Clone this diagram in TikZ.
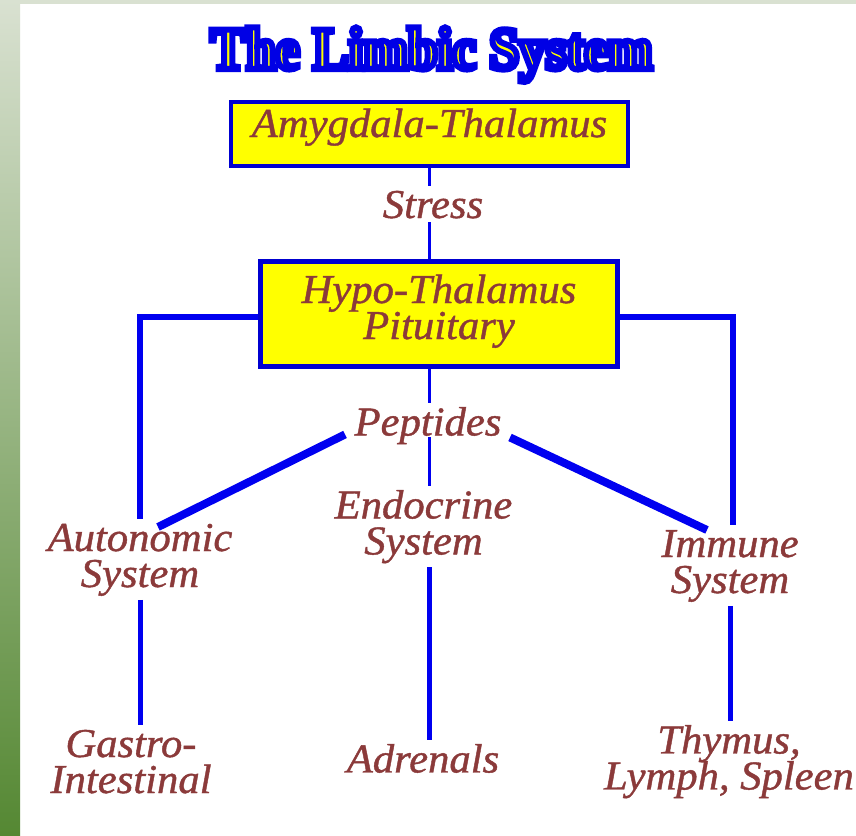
\documentclass[tikz,border=0pt]{standalone}
\usepackage{fontspec}
\usetikzlibrary{calc}
\setmainfont{Liberation Serif}
\newfontfamily\lblfamily[FakeStretch=1.04, FakeBold=1]{Liberation Serif}
\newfontfamily\ttlfamily[FakeStretch=0.89]{Liberation Serif}
\definecolor{lblc}{HTML}{8B3A3A}
\definecolor{lineblue}{HTML}{0000F0}
\definecolor{boxblue}{HTML}{0000D0}
\definecolor{boxyel}{HTML}{FFFF00}
\definecolor{stripg}{HTML}{D9E1D1}
\definecolor{stripm}{HTML}{C6D2BE}
\definecolor{stripdark}{HTML}{558833}
\newcommand\firstln{\rule{0pt}{28pt}}
\newcommand\lblsize{\fontsize{41}{36}\selectfont}
\tikzset{
  lbl/.style={font=\lblfamily\itshape\lblsize,
    text=lblc, align=center, inner sep=0pt, outer sep=4pt, anchor=north},
  ybox/.style={draw=boxblue, line width=4.5pt, fill=boxyel, text=lblc,
    font=\lblfamily\itshape\lblsize,
    align=center, inner sep=0pt},
  ttl/.style={font=\ttlfamily\bfseries\fontsize{60}{60}\selectfont, text=boxyel, inner sep=0pt, anchor=base},
  cthin/.style={draw=lineblue, line width=3.5pt},
  cmed/.style={draw=lineblue, line width=5pt},
  cwide/.style={draw=lineblue, line width=6pt},
  cthick/.style={draw=lineblue, line width=8pt},
}
\begin{document}
\lineskiplimit=-100pt
\begin{tikzpicture}[x=1pt,y=-1pt]
\useasboundingbox (0,0) rectangle (856,835);
\fill[white] (0,0) rectangle (856,835);
\fill[stripg] (0,0) rectangle (856,4);
\shade[top color=stripg, middle color=stripm, bottom color=stripdark] (0,0) rectangle (20,835);

\node[ttl] (title) at (431.5,69) {\special{pdf:literal direct 0 0 0.9 RG 6 w 2 Tr}The Limbic System\special{pdf:literal direct 0 Tr 1 w}};

\node[ybox, minimum width=397pt, minimum height=64pt, text height=24pt, text depth=18pt] (amy) at (429.5,134) {Amygdala-Thalamus};
\node[ybox, minimum width=357pt, minimum height=105pt] (hyp) at (439,314) {\rule{0pt}{30pt}Hypo-Thalamus\\Pituitary\rule[-16pt]{0pt}{16pt}};

\node[lbl] (str) at (433,186) {\firstln Stress};
\node[lbl] (pep) at (428,403) {\firstln Peptides};
\node[lbl] (endo) at (423.5,486) {\firstln Endocrine\\System};
\node[lbl] (aut) at (140,519) {\firstln Autonomic\\System};
\node[lbl] (imm) at (730,525) {\firstln Immune\\System};
\node[lbl] (gas) at (131,725) {\firstln Gastro-\\Intestinal};
\node[lbl] (adr) at (423,740) {\firstln Adrenals};
\node[lbl] (thy) at (729,721) {\firstln Thymus,\\Lymph, Spleen};

\draw[cthin] (amy.south) -- (amy.south |- str.north);
\draw[cthin] (amy.south |- str.south) -- (amy.south |- hyp.north);
\draw[cthin] (amy.south |- hyp.south) -- (amy.south |- pep.north);
\draw[cthin] ([yshift=-2pt]pep.base -| amy.south) -- (amy.south |- endo.north);
\draw[cmed] (amy.south |- endo.south) -- (amy.south |- adr.north);
\draw[cwide] ([yshift=-3pt]hyp.west) -| (aut.north);
\draw[cwide] ([yshift=-3pt]hyp.east) -| ([xshift=3pt]imm.north);
\draw[cmed] (aut.south) -- (aut.south |- gas.north);
\draw[cmed] (imm.south) -- (imm.south |- thy.north);
\draw[cthick] ($(pep.base)+(-83,-1)$) -- ($(aut.north)+(18,8)$);
\draw[cthick] ($(pep.base)+(82,2)$) -- ($(imm.north)+(-23,5)$);
\end{tikzpicture}
\end{document}
